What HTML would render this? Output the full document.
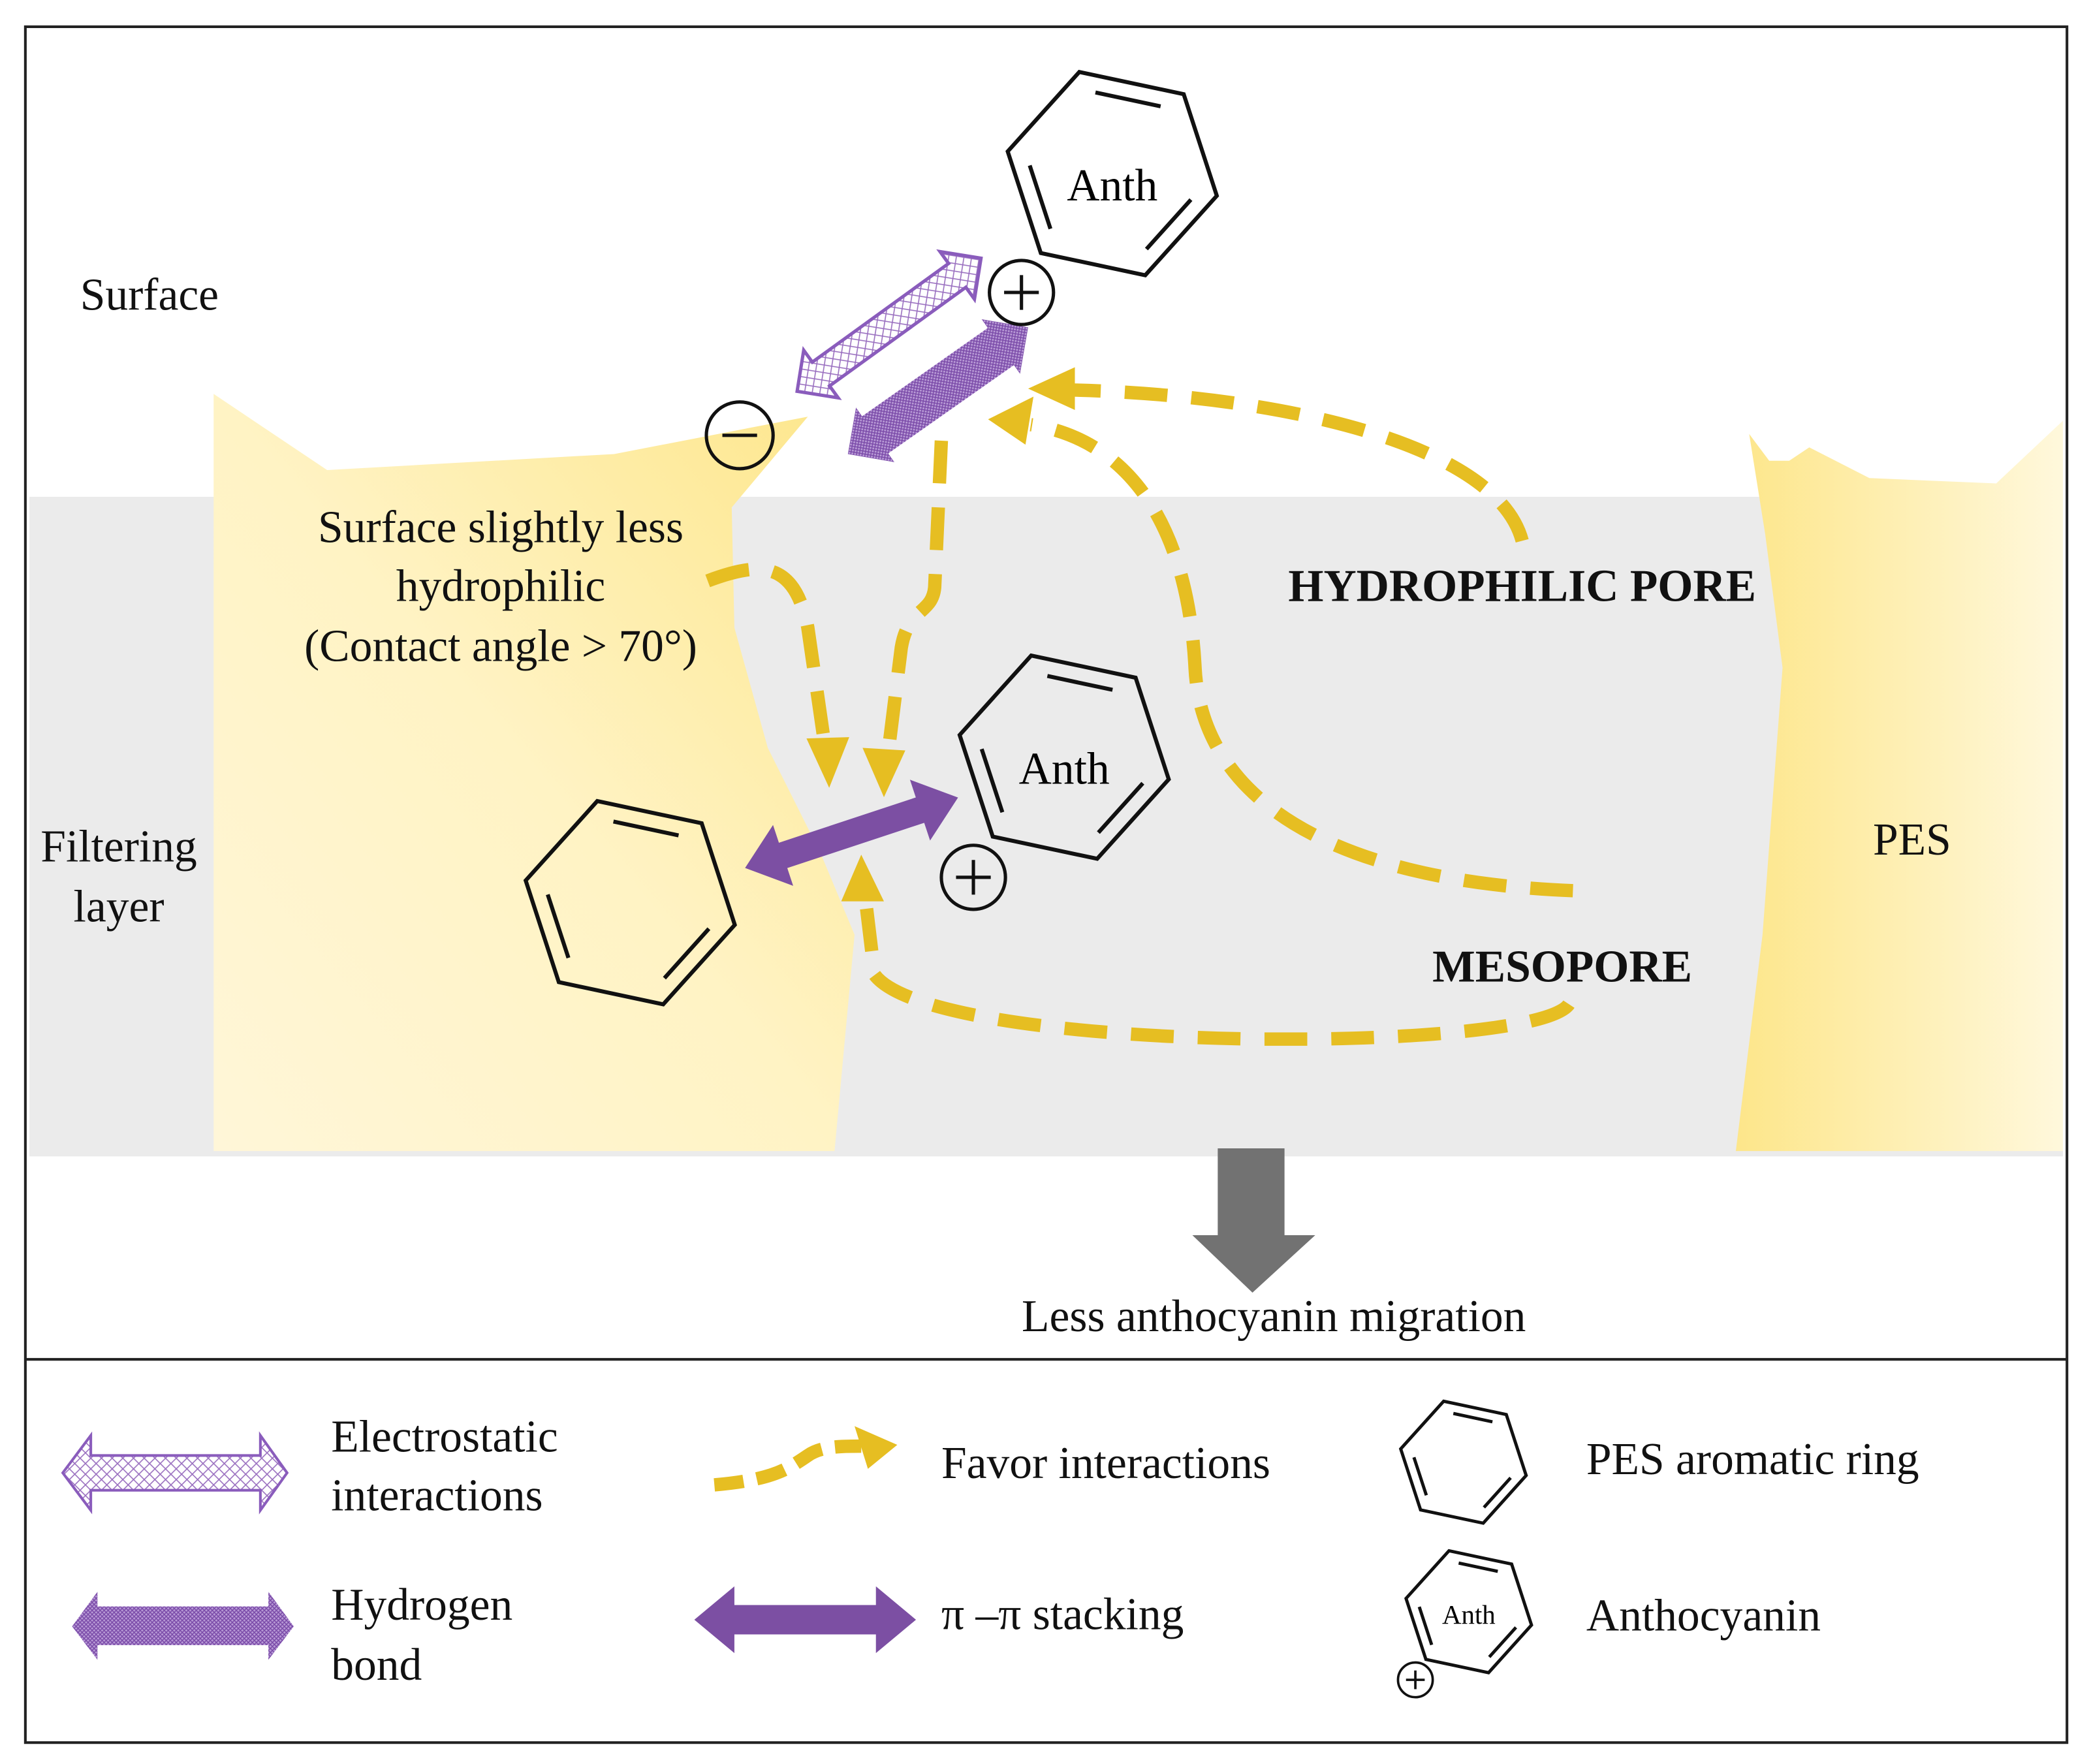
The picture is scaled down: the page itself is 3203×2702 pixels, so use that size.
<!DOCTYPE html>
<html><head><meta charset="utf-8"><style>html,body{margin:0;padding:0;background:#fff}svg{display:block}svg text{font-family:"Liberation Serif","DejaVu Serif",serif}</style></head><body>
<svg width="3203" height="2702" viewBox="0 0 1566 1321" xmlns="http://www.w3.org/2000/svg" style="font-family:'Liberation Serif','DejaVu Serif',serif">
<defs>
<linearGradient id="gl" x1="1" y1="0" x2="0" y2="1"><stop offset="0" stop-color="#fde68a"/><stop offset="0.5" stop-color="#fff3c4"/><stop offset="1" stop-color="#fff6d8"/></linearGradient>
<linearGradient id="gr" x1="0" y1="0" x2="1" y2="0"><stop offset="0" stop-color="#fde68a"/><stop offset="1" stop-color="#fff8dc"/></linearGradient>
<pattern id="xh" width="8" height="8" patternUnits="userSpaceOnUse"><path d="M0,0 L8,8 M8,0 L0,8" stroke="#9a70c0" stroke-width="0.8"/></pattern>
<pattern id="hb" width="3" height="3" patternUnits="userSpaceOnUse"><rect width="3" height="3" fill="#b89ad6"/><path d="M0,0 L3,3 M3,0 L0,3" stroke="#7a4aa8" stroke-width="0.7"/></pattern>
<g id="hex" fill="none" stroke="#111" stroke-width="3">
<polygon points="-24.7,-76.1 53.5,-59.5 78.3,16.6 24.7,76.1 -53.5,59.5 -78.3,-16.6"/>
<path d="M-12.6,-60.8 L36.2,-50.4 M58.9,19.5 L25.6,56.5 M-46.3,41.3 L-61.8,-6.1"/>
</g>
</defs>
<rect width="1566" height="1321" fill="#fff"/>
<rect x="22" y="372" width="1523" height="494" fill="#ebebeb"/>
<polygon points="160,295 245,352 460,340 605,312 548,380 550,470 575,560 615,640 640,700 625,862 160,862" fill="url(#gl)"/>
<polygon points="1310,325 1325,345 1340,345 1355,335 1400,358 1495,362 1545,315 1545,862 1300,862 1320,700 1335,500 1322,400" fill="url(#gr)"/>
<rect x="19" y="20" width="1529" height="1285" fill="none" stroke="#222" stroke-width="2"/>
<line x1="19" y1="1018" x2="1548" y2="1018" stroke="#222" stroke-width="2"/>

<g fill="none" stroke="#e6be22" stroke-width="10" stroke-dasharray="32 18">
<path d="M1140,405 C1120,330 950,295 800,292"/>
<path d="M1178,667 C1000,660 900,600 895,500 C890,400 850,330 772,318"/>
<path d="M705,330 L700,440 C698,460 680,455 675,485 L665,565"/>
<path d="M530,435 C570,420 595,420 605,470 L618,560"/>
<path d="M1175,752 C1150,790 700,790 655,730 L648,672"/>
</g>
<g fill="#e6be22">
<polygon points="770,291 805,275 805,307"/>
<polygon points="740,314 774,297 768,333"/>
<polygon points="662,597 646,560 678,562"/>
<polygon points="621,590 604,553 636,552"/>
<polygon points="645,640 630,675 662,675"/>
</g>

<g transform="translate(597,293) rotate(-35.9)"><polygon points="0,0 22,-22 22,-11 148,-11 148,-22 170,0 148,22 148,11 22,11 22,22" fill="url(#xh)" stroke="#8a5cbc" stroke-width="2.5"/></g>
<g transform="translate(635,340) rotate(-35.1)"><polygon points="0,0 25,-25 25,-17 140,-17 140,-25 165,0 140,25 140,17 25,17 25,25" fill="url(#hb)"/></g>
<g transform="translate(558,650) rotate(-18.3)"><polygon points="0,0 30,-24 30,-10 138,-10 138,-24 168,0 138,24 138,10 30,10 30,24" fill="#7c4fa3"/></g>

<use href="#hex" transform="translate(833,130)"/>
<use href="#hex" transform="translate(797,567)"/>
<use href="#hex" transform="translate(472,676)"/>
<text x="833" y="150" font-size="34" text-anchor="middle">Anth</text>
<text x="797" y="587" font-size="34" text-anchor="middle">Anth</text>
<g fill="none" stroke="#111" stroke-width="2.5">
<circle cx="765" cy="219" r="24"/><circle cx="729" cy="657" r="24"/><circle cx="554" cy="326" r="25"/>
<path d="M752,219 H778 M765,206 V232 M716,657 H742 M729,644 V670 M541,326 H567"/>
</g>

<polygon points="912,860 962,860 962,925 985,925 938,968 893,925 912,925" fill="#727272"/>

<g font-size="34" fill="#111">
<text x="60" y="232">Surface</text>
<text x="89" y="645" text-anchor="middle">Filtering</text>
<text x="89" y="690" text-anchor="middle">layer</text>
<text x="375" y="406" text-anchor="middle">Surface slightly less</text>
<text x="375" y="450" text-anchor="middle">hydrophilic</text>
<text x="375" y="495" text-anchor="middle">(Contact angle &gt; 70°)</text>
<text x="1140" y="450" text-anchor="middle" font-weight="bold">HYDROPHILIC PORE</text>
<text x="1170" y="735" text-anchor="middle" font-weight="bold">MESOPORE</text>
<text x="1432" y="640" text-anchor="middle">PES</text>
<text x="954" y="997" text-anchor="middle">Less anthocyanin migration</text>
<text x="248" y="1087">Electrostatic</text>
<text x="248" y="1131">interactions</text>
<text x="248" y="1213">Hydrogen</text>
<text x="248" y="1258">bond</text>
<text x="705" y="1107">Favor interactions</text>
<text x="705" y="1220">π –π stacking</text>
<text x="1188" y="1104">PES aromatic ring</text>
<text x="1188" y="1221">Anthocyanin</text>
</g>

<polygon points="47,1103 68,1075 68,1090 195,1090 195,1075 215,1103 195,1131 195,1116 68,1116 68,1131" fill="url(#xh)" stroke="#8a5cbc" stroke-width="2"/>
<polygon points="54,1218 73,1192 73,1203 201,1203 201,1192 220,1218 201,1243 201,1232 73,1232 73,1243" fill="url(#hb)"/>
<path d="M535,1112 C580,1108 590,1100 605,1090 C615,1083 630,1083 645,1083" fill="none" stroke="#e6be22" stroke-width="10" stroke-dasharray="22 10"/>
<polygon points="672,1082 640,1068 650,1100" fill="#e6be22"/>
<polygon points="520,1213 550,1188 550,1202 656,1202 656,1188 686,1213 656,1238 656,1224 550,1224 550,1238" fill="#7c4fa3"/>
<g transform="translate(1096,1095) scale(0.6)"><g fill="none" stroke="#111" stroke-width="4"><polygon points="-24.7,-76.1 53.5,-59.5 78.3,16.6 24.7,76.1 -53.5,59.5 -78.3,-16.6"/><path d="M-12.6,-60.8 L36.2,-50.4 M58.9,19.5 L25.6,56.5 M-46.3,41.3 L-61.8,-6.1"/></g></g>
<g transform="translate(1100,1207) scale(0.6)"><g fill="none" stroke="#111" stroke-width="4"><polygon points="-24.7,-76.1 53.5,-59.5 78.3,16.6 24.7,76.1 -53.5,59.5 -78.3,-16.6"/><path d="M-12.6,-60.8 L36.2,-50.4 M58.9,19.5 L25.6,56.5 M-46.3,41.3 L-61.8,-6.1"/></g></g>
<text x="1100" y="1216" font-size="20" text-anchor="middle">Anth</text>
<circle cx="1060" cy="1258" r="13" fill="#fff" stroke="#111" stroke-width="1.8"/>
<path d="M1053,1258 H1067 M1060,1251 V1265" stroke="#111" stroke-width="1.8"/>
</svg>
</body></html>
